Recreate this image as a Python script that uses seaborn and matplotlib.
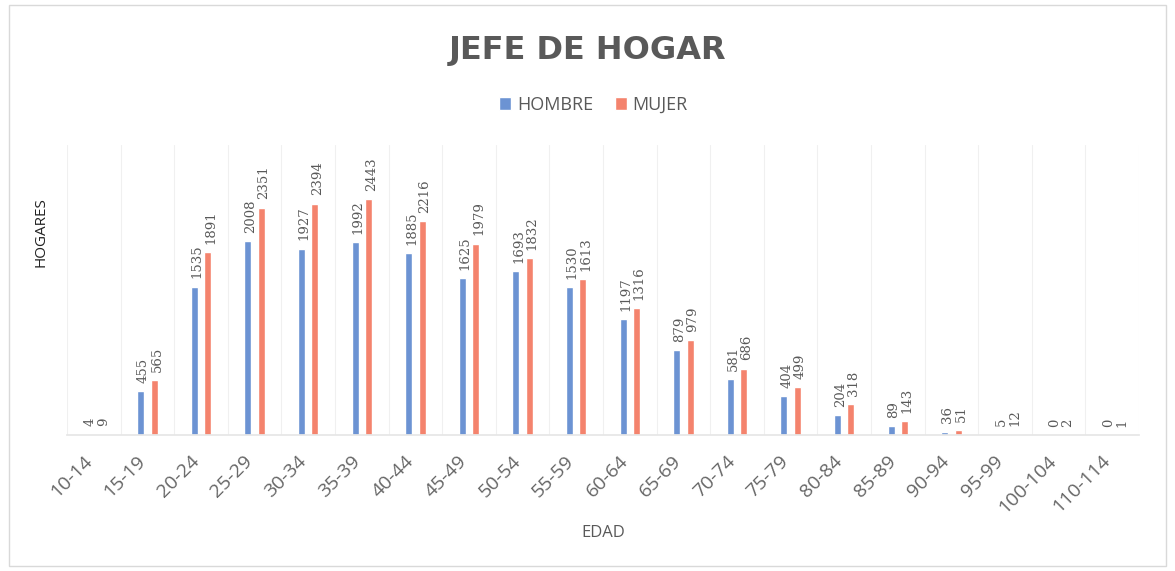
import matplotlib
matplotlib.use("Agg")
import matplotlib.pyplot as plt
from matplotlib.patches import Patch, Rectangle
from matplotlib.transforms import ScaledTranslation
import seaborn as sns
import pandas as pd

# Age groups and number of households by sex of the head of household
edades = ["10-14", "15-19", "20-24", "25-29", "30-34", "35-39", "40-44", "45-49",
          "50-54", "55-59", "60-64", "65-69", "70-74", "75-79", "80-84", "85-89",
          "90-94", "95-99", "100-104", "110-114"]
hombre = [4, 455, 1535, 2008, 1927, 1992, 1885, 1625, 1693, 1530,
          1197, 879, 581, 404, 204, 89, 36, 5, 0, 0]
mujer = [9, 565, 1891, 2351, 2394, 2443, 2216, 1979, 1832, 1613,
         1316, 979, 686, 499, 318, 143, 51, 12, 2, 1]
series = ["HOMBRE", "MUJER"]
colores = ["#6C93D3", "#F4836D"]

df = pd.DataFrame({
    "EDAD": edades * 2,
    "HOGARES": hombre + mujer,
    "SEXO": [series[0]] * len(edades) + [series[1]] * len(edades),
})

sns.set_theme(style="white")
plt.rcParams["font.family"] = ["Open Sans", "DejaVu Sans"]
gris = "#595959"

fig = plt.figure(figsize=(11.75, 5.71), dpi=100)
fig.patch.set_facecolor("white")
fig.add_artist(Rectangle((0.008, 0.008), 0.984, 0.984, transform=fig.transFigure,
                         fill=False, edgecolor="#d9d9d9", lw=1))

ax = fig.add_axes([67 / 1175, 0.238, 1072 / 1175, 0.508])
sns.barplot(data=df, x="EDAD", y="HOGARES", hue="SEXO", hue_order=series,
            palette=colores, width=0.5, gap=0.48, ax=ax, legend=False,
            errorbar=None, saturation=1)

ax.set_ylim(0, 3000)
ax.set_xlim(-0.5, len(edades) - 0.5)
for i in range(len(edades) + 1):
    ax.axvline(i - 0.5, color="#f0f0f0", lw=0.8, zorder=0)

for side in ["top", "left", "right"]:
    ax.spines[side].set_visible(False)
ax.spines["bottom"].set_color("#e6e6e6")
ax.set_yticks([])
ax.tick_params(axis="x", length=0, pad=12)
shift = ScaledTranslation(-11 / 100, 0, fig.dpi_scale_trans)
for lbl in ax.get_xticklabels():
    lbl.set_rotation(45)
    lbl.set_ha("right")
    lbl.set_rotation_mode("anchor")
    lbl.set_fontsize(14)
    lbl.set_color("#666666")
    lbl.set_transform(lbl.get_transform() + shift)

# Value labels above each bar, reading bottom to top
for cont in ax.containers:
    for bar in cont:
        h = bar.get_height()
        ax.annotate(f"{h:.0f}", xy=(bar.get_x() + bar.get_width() / 2, h),
                    xytext=(2, 6), textcoords="offset points", rotation=90,
                    ha="center", va="bottom", fontsize=9.5,
                    family="DejaVu Serif", color=gris)

ax.set_xlabel("EDAD", fontsize=12, color=gris, labelpad=6)
ax.set_ylabel("HOGARES", fontsize=11, color="#222222")
ax.yaxis.set_label_coords(-0.017, 0.70)

fig.text(0.5, 1 - 50 / 571, "JEFE DE HOGAR", ha="center", va="center",
         fontsize=23, fontweight="bold", color=gris, family="DejaVu Sans")

handles = [Patch(facecolor=c, label=s) for c, s in zip(colores, series)]
fig.legend(handles=handles, loc="center", bbox_to_anchor=(0.505, 1 - 105 / 571),
           ncol=2, frameon=False, handlelength=0.7, handleheight=0.7,
           handletextpad=0.3, columnspacing=1.2, fontsize=13, labelcolor=gris)

fig.savefig("out.png", dpi=100)
